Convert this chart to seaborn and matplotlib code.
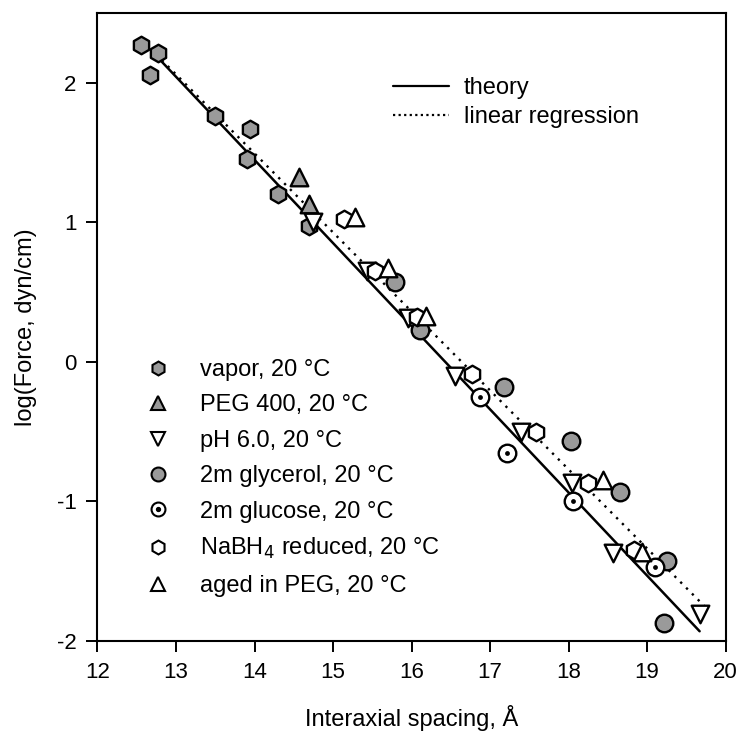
import numpy as np
import pandas as pd
import matplotlib
matplotlib.use("Agg")
import matplotlib.pyplot as plt
import seaborn as sns
from matplotlib.lines import Line2D
from matplotlib.legend_handler import HandlerTuple

# ---- data ----
vapor_x = [12.56, 12.77, 12.67, 13.50, 13.94, 13.90, 14.30, 14.69]
vapor_y = [2.27, 2.21, 2.055, 1.76, 1.67, 1.45, 1.20, 0.97]
peg_x = [14.57, 14.69]
peg_y = [1.32, 1.13]
ph_x = [14.75, 15.43, 15.96, 16.55, 17.40, 18.04, 18.57, 19.68]
ph_y = [1.00, 0.65, 0.31, -0.10, -0.505, -0.87, -1.37, -1.81]
glycerol_x = [15.79, 16.11, 17.18, 18.03, 18.66, 19.25, 19.21]
glycerol_y = [0.57, 0.23, -0.18, -0.57, -0.93, -1.43, -1.87]
glucose_x = [16.87, 17.22, 18.06, 19.10]
glucose_y = [-0.255, -0.65, -1.00, -1.47]
nabh4_x = [15.14, 15.54, 16.07, 16.77, 17.59, 18.25, 18.83]
nabh4_y = [1.02, 0.65, 0.32, -0.09, -0.50, -0.87, -1.35]
aged_x = [15.28, 15.70, 16.19, 18.44, 18.93]
aged_y = [1.04, 0.67, 0.33, -0.85, -1.36]

theory_x = [12.75, 19.67]
theory_y = [2.19, -1.93]
regr_x = [12.82, 19.74]
regr_y = [2.16, -1.755]

labels = ["vapor, 20 °C", "PEG 400, 20 °C", "pH 6.0, 20 °C",
          "2m glycerol, 20 °C", "2m glucose, 20 °C",
          "NaBH$_4$ reduced, 20 °C", "aged in PEG, 20 °C"]
series = [(vapor_x, vapor_y), (peg_x, peg_y), (ph_x, ph_y),
          (glycerol_x, glycerol_y), (glucose_x, glucose_y),
          (nabh4_x, nabh4_y), (aged_x, aged_y)]

GRAY = "#9a9a9a"
markers = {labels[0]: "h", labels[1]: "^", labels[2]: "v", labels[3]: "o",
           labels[4]: "o", labels[5]: "h", labels[6]: "^"}
faces = {labels[0]: GRAY, labels[1]: GRAY, labels[2]: "white", labels[3]: GRAY,
         labels[4]: "white", labels[5]: "white", labels[6]: "white"}

rows = []
for lab, (xs, ys) in zip(labels, series):
    for x, y in zip(xs, ys):
        rows.append({"x": x, "y": y, "cond": lab})
df = pd.DataFrame(rows)

sns.set_theme(style="ticks")
plt.rcParams["font.family"] = ["Liberation Sans", "DejaVu Sans"]
plt.rcParams["axes.unicode_minus"] = False
plt.rcParams["text.color"] = "black"
plt.rcParams["axes.labelcolor"] = "black"
plt.rcParams["xtick.color"] = "black"
plt.rcParams["ytick.color"] = "black"

fig = plt.figure(figsize=(7.42, 7.38), dpi=100)
ax = fig.add_axes([0.1314, 0.1314, 0.8464, 0.8514])

lines_df = pd.DataFrame({"x": theory_x + regr_x, "y": theory_y + regr_y,
                         "kind": ["theory"] * 2 + ["linear regression"] * 2})
sns.lineplot(data=lines_df[lines_df.kind == "theory"], x="x", y="y", color="black",
             lw=1.8, ax=ax, legend=False)
sns.lineplot(data=lines_df[lines_df.kind == "linear regression"], x="x", y="y",
             color="black", lw=1.7, ls=(0, (1, 2.5)), ax=ax, legend=False)

for lab in labels:
    sub = df[df.cond == lab]
    sns.scatterplot(data=sub, x="x", y="y", marker=markers[lab], s=160,
                    color=faces[lab], edgecolor="black", linewidth=1.7,
                    ax=ax, legend=False, zorder=3)
gsub = df[df.cond == labels[4]]
sns.scatterplot(data=gsub, x="x", y="y", marker="o", s=12, color="black",
                edgecolor="black", linewidth=0, ax=ax, legend=False, zorder=4)

ax.set_xlim(12, 20)
ax.set_ylim(-2, 2.5)
ax.set_xticks(range(12, 21))
ax.set_yticks([-2, -1, 0, 1, 2])
for s in ax.spines.values():
    s.set_visible(True)
    s.set_linewidth(1.5)
    s.set_color("black")
ax.tick_params(axis="both", direction="out", length=8, width=1.4,
               labelsize=16, colors="black", pad=7)
ax.set_xlabel("Interaxial spacing, Å", fontsize=17, labelpad=16)
ax.set_ylabel("log(Force, dyn/cm)", fontsize=17, labelpad=14)

# line legend
lh = [Line2D([], [], color="black", lw=1.6),
      Line2D([], [], color="black", lw=1.6, ls=(0, (1, 1.5)))]
leg1 = ax.legend(lh, ["theory", "linear regression"], loc="upper left",
                 bbox_to_anchor=(0.47, 0.898), frameon=False, fontsize=17,
                 handlelength=2.4, handletextpad=0.6, labelspacing=0.3,
                 borderpad=0, borderaxespad=0)
ax.add_artist(leg1)

# marker legend
mh = []
for lab in labels:
    h = Line2D([], [], ls="none", marker=markers[lab], markersize=10,
               markerfacecolor=faces[lab], markeredgecolor="black",
               markeredgewidth=1.5)
    if lab == labels[4]:
        h = (h, Line2D([], [], ls="none", marker="o", markersize=2.8,
                       markerfacecolor="black", markeredgecolor="black"))
    mh.append(h)
ax.legend(mh, labels, loc="upper left", bbox_to_anchor=(0.079, 0.449),
          frameon=False, fontsize=17, handlelength=0.95, handletextpad=1.3,
          labelspacing=0.57, borderpad=0, borderaxespad=0,
          handler_map={tuple: HandlerTuple(ndivide=1)})

fig.savefig("out.png", dpi=100)
